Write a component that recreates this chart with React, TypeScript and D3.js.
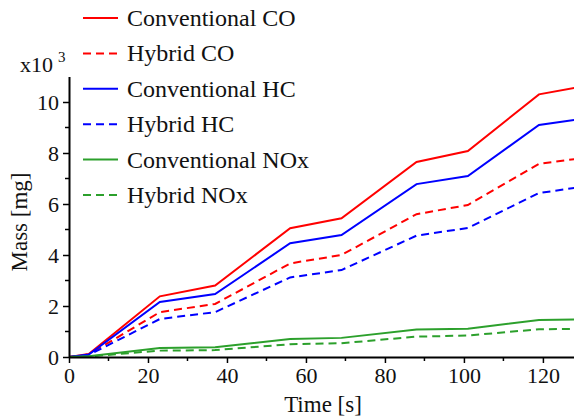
import { useEffect, useRef } from "react";
import * as d3 from "d3";

// time knots [s]
const times = [0, 5, 23, 37, 56, 69, 88, 101, 119, 128];

// mass [x10^3 mg]
const convCO = [0, 0.12, 2.38, 2.8, 5.05, 5.44, 7.65, 8.08, 10.3, 10.55];
const hybridCO = [0, 0.1, 1.76, 2.08, 3.67, 4.0, 5.6, 5.96, 7.57, 7.76];
const convHC = [0, 0.1, 2.16, 2.47, 4.46, 4.78, 6.78, 7.1, 9.1, 9.3];
const hybridHC = [0, 0.08, 1.49, 1.76, 3.12, 3.41, 4.76, 5.06, 6.43, 6.63];
const convNOx = [0, 0.03, 0.35, 0.38, 0.71, 0.75, 1.08, 1.11, 1.45, 1.47];
const hybridNOx = [0, 0.02, 0.25, 0.27, 0.5, 0.54, 0.8, 0.84, 1.09, 1.1];

const seriesNames = [
  "Conventional CO",
  "Hybrid CO",
  "Conventional HC",
  "Hybrid HC",
  "Conventional NOx",
  "Hybrid NOx",
];
const seriesValues = [convCO, hybridCO, convHC, hybridHC, convNOx, hybridNOx];
const seriesColors = ["#ff0000", "#ff0000", "#0000ff", "#0000ff", "#2ca02c", "#2ca02c"];
const seriesDashed = [false, true, false, true, false, true];

const xMajorTicks = [0, 20, 40, 60, 80, 100, 120];
const xMinorTicks = [10, 30, 50, 70, 90, 110];
const yMajorTicks = [0, 2, 4, 6, 8, 10];
const yMinorTicks = [1, 3, 5, 7, 9];

const W = 574;
const H = 419;
const FONT = "'Liberation Serif', 'Times New Roman', serif";

const App = () => {
  const svgRef = useRef<SVGSVGElement | null>(null);

  useEffect(() => {
    if (!svgRef.current) return;
    const svg = d3.select(svgRef.current);
    svg.selectAll("*").remove();

    const x = d3.scaleLinear().domain([0, 128]).range([69, 574.5]);
    const y = d3.scaleLinear().domain([0, 11]).range([357, 76.5]);

    svg
      .append("defs")
      .append("clipPath")
      .attr("id", "plotClip")
      .append("rect")
      .attr("x", 69)
      .attr("y", 60)
      .attr("width", W - 69)
      .attr("height", 300);

    // lines
    const line = d3
      .line<number>()
      .x((_, i) => x(times[i]))
      .y((d) => y(d));

    const lines = svg.append("g").attr("clip-path", "url(#plotClip)");
    seriesValues.forEach((vals, i) => {
      lines
        .append("path")
        .datum(vals)
        .attr("fill", "none")
        .attr("stroke", seriesColors[i])
        .attr("stroke-width", 2)
        .attr("stroke-dasharray", seriesDashed[i] ? "8,5" : null)
        .attr("d", line);
    });

    // x axis
    const gx = svg.append("g").attr("transform", `translate(0, ${y(0)})`);
    gx.call(
      d3
        .axisBottom(x)
        .tickValues(xMajorTicks)
        .tickSize(6)
        .tickPadding(4)
        .tickSizeOuter(0)
        .tickFormat(d3.format("d"))
    );
    gx.append("g")
      .selectAll("line")
      .data(xMinorTicks)
      .enter()
      .append("line")
      .attr("x1", (d) => x(d))
      .attr("x2", (d) => x(d))
      .attr("y1", 0)
      .attr("y2", 4)
      .attr("stroke", "#000")
      .attr("stroke-width", 1.5);

    // y axis
    const gy = svg.append("g").attr("transform", `translate(${x(0)}, 0)`);
    gy.call(
      d3
        .axisLeft(y)
        .tickValues(yMajorTicks)
        .tickSize(6)
        .tickPadding(4)
        .tickSizeOuter(0)
        .tickFormat(d3.format("d"))
    );
    gy.append("g")
      .selectAll("line")
      .data(yMinorTicks)
      .enter()
      .append("line")
      .attr("y1", (d) => y(d))
      .attr("y2", (d) => y(d))
      .attr("x1", 0)
      .attr("x2", -4)
      .attr("stroke", "#000")
      .attr("stroke-width", 1.5);

    [gx, gy].forEach((g) => {
      g.select(".domain").attr("stroke", "#000").attr("stroke-width", 2);
      g.selectAll(".tick line").attr("stroke", "#000").attr("stroke-width", 1.5);
      g.selectAll(".tick text")
        .attr("fill", "#111")
        .style("font-family", FONT)
        .style("font-size", "22px");
    });

    // axis titles
    svg
      .append("text")
      .attr("x", 323)
      .attr("y", 412)
      .attr("text-anchor", "middle")
      .style("font-family", FONT)
      .style("font-size", "23px")
      .attr("fill", "#111")
      .text("Time [s]");

    svg
      .append("text")
      .attr("transform", `translate(27, 222) rotate(-90)`)
      .attr("text-anchor", "middle")
      .style("font-family", FONT)
      .style("font-size", "23px")
      .attr("fill", "#111")
      .text("Mass [mg]");

    const mult = svg
      .append("text")
      .attr("x", 20)
      .attr("y", 72)
      .style("font-family", FONT)
      .style("font-size", "22px")
      .attr("fill", "#111");
    mult.append("tspan").text("x10");
    mult
      .append("tspan")
      .attr("dx", 5)
      .attr("dy", -10)
      .style("font-size", "15px")
      .text("3");

    // legend
    const legend = svg.append("g");
    seriesNames.forEach((name, i) => {
      const cy = 18 + i * 35.4;
      legend
        .append("line")
        .attr("x1", 83)
        .attr("x2", 118)
        .attr("y1", cy)
        .attr("y2", cy)
        .attr("stroke", seriesColors[i])
        .attr("stroke-width", 2)
        .attr("stroke-dasharray", seriesDashed[i] ? "8,5" : null);
      legend
        .append("text")
        .attr("x", 127)
        .attr("y", cy + 8)
        .style("font-family", FONT)
        .style("font-size", "24px")
        .attr("fill", "#111")
        .text(name);
    });
  }, []);

  return (
    <div style={{ position: "absolute", left: 0, top: 0, width: W, height: H, background: "#fff" }}>
      <svg ref={svgRef} width={W} height={H}></svg>
    </div>
  );
};

export default App;
